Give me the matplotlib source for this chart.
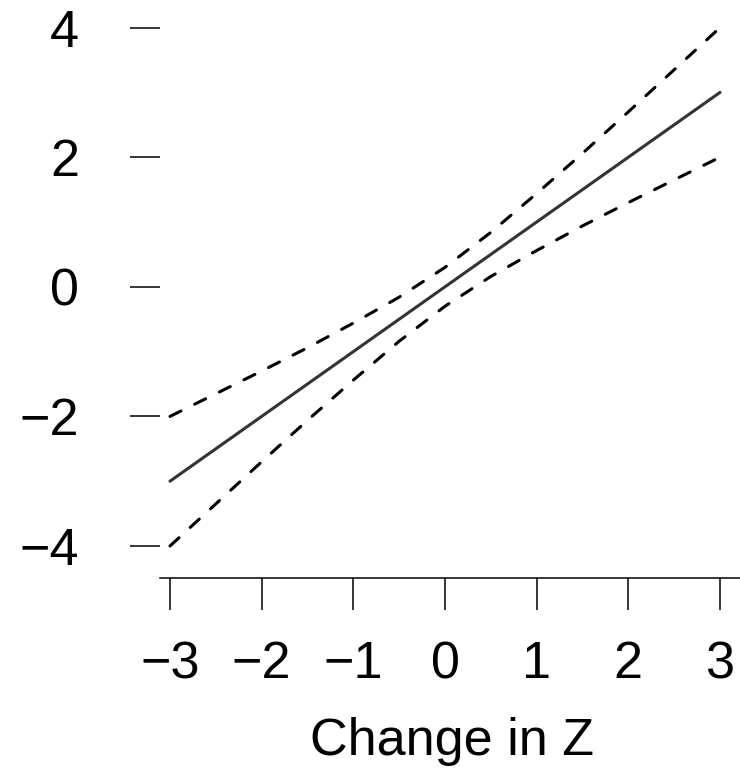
import matplotlib
matplotlib.use('Agg')
import matplotlib.pyplot as plt

plt.rcParams['font.family'] = ['Liberation Sans', 'DejaVu Sans']

# values
z = [-3, -2.5, -2, -1.5, -1, -0.5, 0, 0.5, 1, 1.5, 2, 2.5, 3]
effect = [-3, -2.5, -2, -1.5, -1, -0.5, 0, 0.5, 1, 1.5, 2, 2.5, 3]
upper = [-2.0, -1.65, -1.30, -0.94, -0.56, -0.16, 0.30, 0.84, 1.44, 2.06, 2.70, 3.35, 4.0]
lower = [-4.0, -3.35, -2.70, -2.06, -1.44, -0.84, -0.30, 0.16, 0.56, 0.94, 1.30, 1.65, 2.0]

x_ticks = [-3, -2, -1, 0, 1, 2, 3]
y_ticks = [-4, -2, 0, 2, 4]

W, H = 740, 770
fig = plt.figure(figsize=(W / 100, H / 100), dpi=100)
# left spine at x=160px, bottom spine at y=578px
ax = fig.add_axes([160 / W, (H - 578) / H, (W - 160) / W, 578 / H])

ax.plot(z, effect, color='#333333', lw=2.2, solid_capstyle='round')
ax.plot(z, upper, color='black', lw=2.2, linestyle=(0, (4, 5)), dash_capstyle='round')
ax.plot(z, lower, color='black', lw=2.2, linestyle=(0, (4, 5)), dash_capstyle='round')

ax.set_xlim(-3 - 10 / 91.75, 3 + 20 / 91.75)
ax.set_ylim(-(578 - 286.8) / 64.8, 286.8 / 64.8)

for s in ['top', 'right', 'left']:
    ax.spines[s].set_visible(False)
ax.spines['bottom'].set_linewidth(1.1)

ax.set_xticks(x_ticks)
ax.set_yticks(y_ticks)
ax.set_xticklabels([str(v).replace('-', '\u2212') for v in x_ticks])
ax.set_yticklabels([str(v).replace('-', '\u2212') for v in y_ticks])
ax.tick_params(axis='x', length=23, width=1.1, pad=22, labelsize=37.5)
ax.tick_params(axis='y', length=21.6, width=1.1, pad=36.7, labelsize=37.5)

ax.set_xlabel('Change in Z', fontsize=37.5)
ax.xaxis.set_label_coords(0.504, -0.2405)

fig.savefig('out.png', dpi=100)
